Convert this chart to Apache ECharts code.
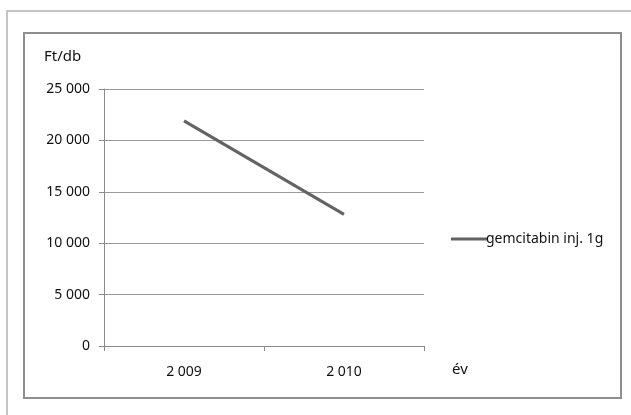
<!DOCTYPE html>
<html><head><meta charset="utf-8">
<script src="https://cdn.jsdelivr.net/npm/echarts@6/dist/echarts.min.js"></script>
<style>html,body{margin:0;padding:0;background:#fff}#c{width:631px;height:415px}</style>
</head><body><div id="c"></div>
<script>
var categories = ['2009', '2010'];
var seriesName = 'gemcitabin inj. 1g';
var values = [21900, 12800];
var yTicks = [0, 5000, 10000, 15000, 20000, 25000];
var yName = 'Ft/db';
var xName = 'év';

function fmt(v){ var s = String(v); return s.replace(/\B(?=(\d{3})+(?!\d))/g, ' '); }
var font = 'Noto Sans';
var chart = echarts.init(document.getElementById('c'));
chart.setOption({
  animation:false,
  backgroundColor:'#fff',
  textStyle:{fontFamily:font},
  grid:{left:104, right:207, top:89, bottom:69},
  graphic:[
    {type:'rect', shape:{x:7, y:11, width:640, height:420}, style:{fill:null, stroke:'#c4c4c4', lineWidth:2}},
    {type:'rect', shape:{x:24, y:33, width:597, height:365}, style:{fill:null, stroke:'#8e8e8e', lineWidth:2}},
    {type:'text', left:44, top:49, style:{text:yName, font:'15px "Noto Sans"', fill:'#111'}},
    {type:'text', left:452, top:362, style:{text:xName, font:'15px "Noto Sans"', fill:'#111'}}
  ],
  legend:{left:446, top:227, icon:'rect', itemWidth:36, itemHeight:3, itemGap:4,
    data:[{name:seriesName, icon:'rect'}],
    textStyle:{fontFamily:font, fontSize:14, color:'#111', padding:[0,0,0,-6]}},
  xAxis:{type:'category', data:categories.map(function(c){return fmt(c);}), boundaryGap:true,
    axisLine:{lineStyle:{color:'#8a8a8a', width:1}},
    axisTick:{show:true, length:5, lineStyle:{color:'#8a8a8a'}},
    axisLabel:{fontFamily:font, fontSize:14, color:'#111', margin:19}},
  yAxis:{type:'value', min:yTicks[0], max:yTicks[yTicks.length-1], interval:yTicks[1]-yTicks[0],
    axisLine:{show:true, lineStyle:{color:'#8a8a8a', width:1}},
    axisTick:{show:true, length:5, lineStyle:{color:'#8a8a8a'}},
    splitLine:{lineStyle:{color:'#9a9a9a', width:1}},
    axisLabel:{fontFamily:font, fontSize:14, color:'#111', margin:14, formatter:function(v){return fmt(v);}}},
  series:[{name:seriesName, type:'line', data:values, symbol:'none',
    lineStyle:{color:'#636363', width:3}, itemStyle:{color:'#636363'}}]
});
</script></body></html>
